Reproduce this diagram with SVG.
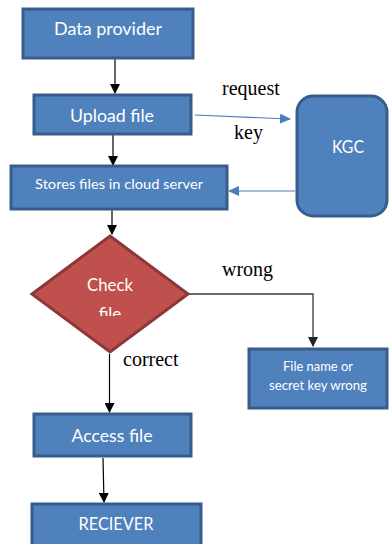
<svg xmlns="http://www.w3.org/2000/svg" width="389" height="544" viewBox="0 0 389 544">
  <defs>
    <marker id="arrowBlack" markerWidth="10" markerHeight="10" refX="9" refY="5" orient="auto" markerUnits="userSpaceOnUse">
      <path d="M0,0 L10,5 L0,10 Z" fill="#000"/>
    </marker>
    <marker id="arrowGrey" markerWidth="10" markerHeight="10" refX="9" refY="5" orient="auto" markerUnits="userSpaceOnUse">
      <path d="M0,0 L10,5 L0,10 Z" fill="#222"/>
    </marker>
    <marker id="arrowBlue" markerWidth="11" markerHeight="10" refX="10" refY="5" orient="auto" markerUnits="userSpaceOnUse">
      <path d="M0,0 L11,5 L0,10 Z" fill="#4a7ebb"/>
    </marker>
    <clipPath id="diamondText">
      <rect x="30" y="270" width="160" height="46"/>
    </clipPath>
  </defs>
  <style>
    .box { fill: #4f81bd; stroke: #385d8a; stroke-width: 3; }
    .decision { fill: #c0504d; stroke: #8c3836; stroke-width: 3; }
    .label { fill: #ffffff; font-family: "Lato", "Liberation Sans", sans-serif; text-anchor: middle; }
    .note { fill: #000; font-family: "Liberation Serif", serif; font-size: 20px; }
    .flow { stroke: #000; stroke-width: 1.2; fill: none; }
    .branch { stroke: #3a3a3a; stroke-width: 1.3; fill: none; }
    .key { stroke: #4a7ebb; stroke-width: 1.2; fill: none; }
  </style>

  <!-- connectors -->
  <g id="connectors">
    <line class="flow" x1="115" y1="58" x2="115" y2="93" marker-end="url(#arrowBlack)"/>
    <line class="flow" x1="113" y1="135" x2="113" y2="165" marker-end="url(#arrowBlack)"/>
    <line class="flow" x1="112" y1="210" x2="112" y2="234" marker-end="url(#arrowBlack)"/>
    <polyline class="branch" points="188,294 313,294 313,346" marker-end="url(#arrowGrey)"/>
    <line class="flow" x1="109.5" y1="354" x2="109.5" y2="412" marker-end="url(#arrowBlack)"/>
    <line class="flow" x1="103" y1="458" x2="104" y2="502" marker-end="url(#arrowBlack)"/>
    <line class="key" x1="195" y1="115" x2="290" y2="119" marker-end="url(#arrowBlue)"/>
    <line class="key" x1="295" y1="191" x2="229" y2="191" marker-end="url(#arrowBlue)"/>
    <text class="note" x="222" y="95">request</text>
    <text class="note" x="234" y="139">key</text>
    <text class="note" x="222" y="276" font-size="19">wrong</text>
    <text class="note" x="123" y="366">correct</text>
  </g>

  <g id="data-provider">
    <rect class="box" x="23" y="9" width="170" height="49"/>
    <text class="label" x="108" y="35" font-size="17" textLength="108" lengthAdjust="spacingAndGlyphs">Data provider</text>
  </g>

  <g id="upload-file">
    <rect class="box" x="34" y="95" width="157" height="39"/>
    <text class="label" x="112" y="122" font-size="17" textLength="84" lengthAdjust="spacingAndGlyphs">Upload file</text>
  </g>

  <g id="kgc">
    <rect class="box" x="297" y="96" width="90" height="120" rx="16" ry="16"/>
    <text class="label" x="348" y="153" font-size="17" textLength="32" lengthAdjust="spacingAndGlyphs">KGC</text>
  </g>

  <g id="cloud-server">
    <rect class="box" x="11" y="166" width="216" height="43"/>
    <text class="label" x="119" y="189" font-size="13" textLength="168" lengthAdjust="spacingAndGlyphs">Stores files in cloud server</text>
  </g>

  <g id="check-file">
    <polygon class="decision" points="110,236 188,294 110,352 32,294"/>
    <g clip-path="url(#diamondText)">
      <text class="label" x="110" y="291" font-size="17" textLength="46" lengthAdjust="spacingAndGlyphs">Check</text>
      <text class="label" x="110" y="320" font-size="17">file</text>
    </g>
  </g>

  <g id="error">
    <rect class="box" x="249" y="349" width="138" height="59"/>
    <text class="label" x="318" y="371" font-size="12.5" textLength="70" lengthAdjust="spacingAndGlyphs">File name or</text>
    <text class="label" x="318" y="390" font-size="12.5" textLength="98" lengthAdjust="spacingAndGlyphs">secret key wrong</text>
  </g>

  <g id="access-file">
    <rect class="box" x="34" y="414" width="157" height="42"/>
    <text class="label" x="112" y="442" font-size="17" textLength="81" lengthAdjust="spacingAndGlyphs">Access file</text>
  </g>

  <g id="receiver">
    <rect class="box" x="32" y="504" width="169" height="42"/>
    <text class="label" x="116" y="530" font-size="17" textLength="75" lengthAdjust="spacingAndGlyphs">RECIEVER</text>
  </g>
</svg>
